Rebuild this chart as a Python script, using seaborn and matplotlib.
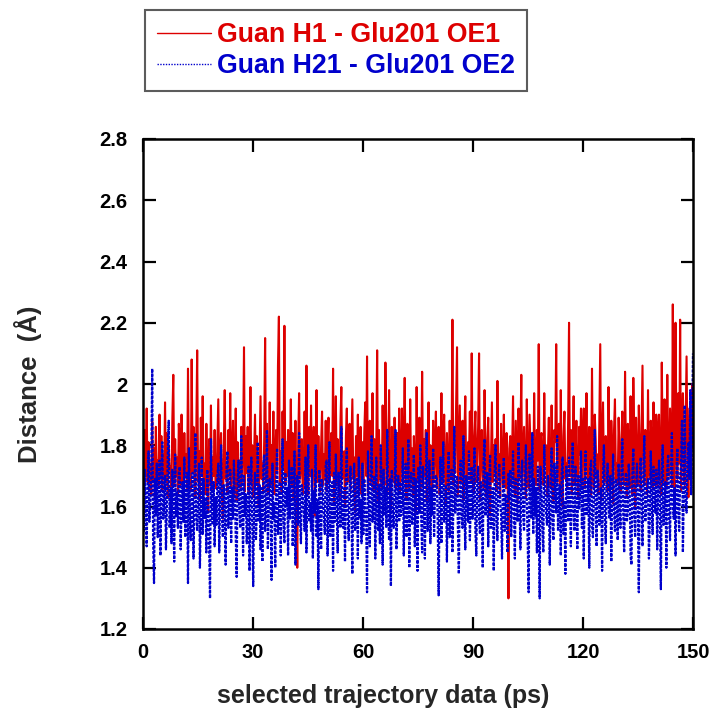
import numpy as np
import pandas as pd
import matplotlib
matplotlib.use("Agg")
import matplotlib.pyplot as plt
import seaborn as sns

# Distance series (Å), sampled evenly over the 0-150 ps window (40 samples per 10 ps row)
h1_oe1 = [
    1.78,1.66,1.85,1.70,1.92,1.68,1.81,1.66,1.74,1.64,1.88,1.69,1.79,1.63,1.86,1.71,1.75,1.67,1.90,1.70,
    1.83,1.65,1.77,1.69,1.94,1.68,1.84,1.63,1.80,1.72,1.73,1.66,1.89,2.03,1.67,1.82,1.70,1.76,1.64,1.87,
    1.81,1.67,1.90,1.72,1.64,1.84,1.70,1.77,1.66,2.05,1.69,1.79,1.65,2.08,1.71,1.86,1.73,1.63,1.83,2.11,
    1.68,1.78,1.62,1.89,1.70,1.96,1.66,1.74,1.64,1.87,1.71,1.58,1.82,1.67,1.93,1.65,1.76,1.70,1.85,1.66,
    1.66,1.80,1.95,1.68,1.74,1.84,1.65,1.56,1.79,1.98,1.69,1.72,1.64,1.85,1.70,1.97,1.66,1.76,1.88,1.63,
    1.72,1.92,1.62,1.81,1.69,1.75,1.66,1.86,1.68,1.78,2.12,1.65,1.83,1.71,1.86,1.64,1.73,1.99,1.67,1.80,
    1.63,1.77,1.90,1.67,1.83,1.70,1.60,1.79,1.96,1.69,1.74,1.65,1.82,2.15,1.68,1.87,1.64,1.72,1.94,1.67,
    1.80,1.69,1.91,1.64,1.76,1.85,1.71,2.06,2.22,1.68,1.78,1.65,1.91,1.72,2.19,1.67,1.81,1.70,1.85,1.66,
    1.76,1.95,1.67,1.84,1.62,1.71,1.88,1.68,1.40,1.80,1.97,1.69,1.74,1.82,1.64,1.70,1.91,1.66,2.06,1.72,
    1.64,1.86,1.70,1.93,1.66,1.78,1.86,1.57,1.75,1.98,1.68,1.83,1.71,1.65,1.80,1.91,1.67,1.77,1.69,1.88,
    1.65,1.79,1.89,1.68,1.73,1.84,1.70,2.05,1.61,1.77,1.96,1.67,1.82,1.71,1.63,1.87,1.99,1.69,1.74,1.78,
    1.60,1.83,1.92,1.68,1.71,1.87,1.65,1.80,1.95,1.69,1.76,1.58,1.83,1.70,1.90,1.66,1.75,1.86,1.64,1.81,
    1.67,1.84,1.94,1.70,2.09,1.64,1.78,1.88,1.68,1.73,1.97,1.65,1.82,1.71,1.76,2.11,1.62,1.85,1.69,1.79,
    1.66,1.93,1.72,1.67,2.07,1.81,1.64,1.74,1.98,1.69,1.59,1.86,1.72,1.68,1.89,1.66,1.77,1.84,1.67,1.92,
    1.65,1.76,1.92,1.68,1.81,2.02,1.70,1.62,1.87,1.74,1.66,1.95,1.69,1.79,1.64,1.83,1.72,1.58,1.99,1.68,
    1.77,1.89,1.65,1.73,2.04,1.67,1.82,1.70,1.85,1.62,1.75,1.94,1.67,1.80,1.71,1.65,1.88,1.69,1.79,1.91,
    1.66,1.78,1.86,1.64,1.72,1.97,1.68,1.82,1.90,1.70,1.61,1.84,1.75,1.65,1.88,1.69,1.77,2.21,1.67,1.80,
    1.71,1.93,2.12,1.64,1.79,1.93,1.68,1.74,1.88,1.62,1.83,1.96,1.70,1.66,1.81,1.76,1.91,1.68,2.10,1.73,
    1.65,1.83,1.91,1.68,1.75,1.86,2.10,1.62,1.78,1.85,1.70,1.66,1.98,1.73,1.63,1.82,1.89,1.69,1.57,1.76,
    1.94,1.68,1.80,1.71,1.82,1.65,2.01,1.70,1.77,1.63,1.87,1.74,1.67,1.90,1.70,1.66,1.84,1.72,1.30,1.79,
    1.83,1.67,1.77,1.96,1.70,1.64,1.88,1.74,1.61,1.92,1.69,1.81,2.03,1.66,1.76,1.86,1.70,1.63,1.95,1.72,
    1.66,1.90,1.79,1.69,1.84,1.64,1.97,1.71,1.67,1.85,1.75,2.13,1.65,1.82,1.84,1.70,1.67,1.97,1.74,1.80,
    1.64,1.78,1.89,1.69,1.66,1.93,1.72,1.62,1.85,1.81,2.13,1.68,1.76,1.87,1.65,1.98,1.71,1.60,1.83,1.91,
    1.69,1.74,1.66,1.88,2.20,1.70,1.85,1.64,1.79,1.96,1.67,1.73,1.88,1.69,1.63,1.86,1.77,1.92,1.67,1.81,
    1.92,1.66,1.78,1.97,1.70,1.67,1.86,1.74,1.64,2.05,1.71,1.66,1.90,1.82,1.69,1.77,1.64,1.88,2.13,1.62,
    1.80,1.94,1.70,1.68,1.83,1.76,1.65,1.99,1.72,1.67,1.88,1.79,1.61,1.85,1.95,1.69,1.74,1.67,1.89,1.78,
    1.65,1.81,1.91,1.69,1.67,2.04,1.75,1.63,1.87,1.79,1.66,1.96,1.71,1.64,2.02,1.83,1.60,1.89,1.73,1.67,
    1.93,1.78,1.65,1.85,2.06,1.70,1.67,1.85,1.77,1.64,1.98,1.72,1.69,1.88,1.80,1.66,1.94,1.74,1.67,1.90,
    1.67,1.84,1.90,1.71,1.64,2.07,1.76,1.68,1.95,1.82,1.66,2.03,1.73,1.70,1.92,1.80,1.67,2.26,1.70,1.66,
    2.20,1.78,1.69,1.97,1.74,2.21,1.65,1.86,1.97,1.70,1.67,1.88,2.09,1.75,1.63,1.92,1.81,1.70,2.00,1.79,
]

h21_oe2 = [
    1.64,1.52,1.72,1.58,1.47,1.66,1.78,1.55,1.61,1.70,2.05,1.49,1.35,1.69,1.57,1.74,1.50,1.63,1.75,1.44,
    1.68,1.81,1.56,1.62,1.70,1.46,1.59,1.77,1.88,1.53,1.66,1.48,1.72,1.60,1.42,1.77,1.57,1.65,1.53,1.71,
    1.73,1.46,1.60,1.68,1.55,1.76,1.50,1.63,1.71,1.35,1.79,1.58,1.49,1.66,1.71,1.43,1.62,1.84,1.57,1.52,
    1.65,1.74,1.40,1.60,1.76,1.51,1.69,1.56,1.63,1.45,1.72,1.58,1.47,1.30,1.82,1.61,1.54,1.68,1.47,1.63,
    1.54,1.70,1.74,1.45,1.62,1.80,1.56,1.50,1.67,1.59,1.41,1.73,1.78,1.53,1.61,1.72,1.48,1.66,1.56,1.75,
    1.64,1.51,1.37,1.69,1.75,1.58,1.53,1.83,1.62,1.44,1.70,1.57,1.64,1.48,1.58,1.73,1.39,1.66,1.76,1.55,
    1.34,1.62,1.71,1.49,1.58,1.81,1.55,1.67,1.46,1.66,1.42,1.73,1.77,1.52,1.60,1.85,1.46,1.64,1.69,1.58,
    1.36,1.74,1.56,1.61,1.40,1.68,1.79,1.51,1.57,1.68,1.44,1.63,1.82,1.55,1.48,1.71,1.60,1.66,1.44,1.75,
    1.56,1.64,1.73,1.47,1.59,1.78,1.41,1.62,1.70,1.54,1.84,1.57,1.48,1.67,1.63,1.59,1.52,1.76,1.45,1.69,
    1.80,1.55,1.61,1.52,1.72,1.43,1.65,1.58,1.80,1.50,1.62,1.33,1.72,1.57,1.46,1.69,1.64,1.57,1.51,1.74,
    1.75,1.44,1.63,1.81,1.50,1.59,1.68,1.39,1.71,1.55,1.77,1.60,1.45,1.71,1.64,1.53,1.86,1.58,1.53,1.66,
    1.42,1.70,1.79,1.56,1.49,1.64,1.73,1.58,1.38,1.67,1.74,1.52,1.61,1.69,1.43,1.76,1.56,1.62,1.48,1.74,
    1.51,1.69,1.60,1.56,1.32,1.78,1.63,1.47,1.67,1.83,1.55,1.61,1.70,1.43,1.76,1.59,1.52,1.67,1.48,1.80,
    1.62,1.41,1.72,1.57,1.66,1.53,1.85,1.60,1.49,1.69,1.34,1.72,1.58,1.53,1.64,1.85,1.46,1.61,1.70,1.55,
    1.68,1.57,1.62,1.79,1.44,1.66,1.74,1.50,1.59,1.82,1.40,1.65,1.71,1.54,1.60,1.77,1.47,1.69,1.63,1.39,
    1.73,1.58,1.80,1.56,1.45,1.73,1.62,1.43,1.68,1.84,1.52,1.61,1.75,1.48,1.66,1.57,1.79,1.50,1.64,1.70,
    1.69,1.54,1.31,1.62,1.76,1.48,1.66,1.81,1.55,1.60,1.67,1.42,1.71,1.78,1.50,1.63,1.72,1.45,1.59,1.86,
    1.58,1.65,1.70,1.52,1.38,1.68,1.75,1.57,1.53,1.83,1.61,1.46,1.70,1.64,1.55,1.78,1.49,1.62,1.73,1.56,
    1.64,1.79,1.52,1.44,1.68,1.73,1.56,1.51,1.68,1.62,1.40,1.75,1.82,1.57,1.63,1.71,1.47,1.66,1.77,1.53,
    1.59,1.66,1.39,1.72,1.80,1.55,1.49,1.68,1.74,1.61,1.57,1.43,1.69,1.76,1.52,1.64,1.58,1.45,1.71,1.62,
    1.72,1.50,1.65,1.78,1.58,1.43,1.69,1.61,1.55,1.81,1.64,1.46,1.70,1.75,1.57,1.52,1.67,1.80,1.62,1.48,
    1.32,1.77,1.63,1.56,1.84,1.51,1.69,1.57,1.66,1.45,1.73,1.59,1.30,1.73,1.64,1.53,1.45,1.80,1.67,1.58,
    1.54,1.70,1.63,1.41,1.68,1.79,1.55,1.49,1.74,1.66,1.58,1.83,1.52,1.61,1.67,1.44,1.71,1.76,1.51,1.62,
    1.38,1.73,1.66,1.55,1.76,1.60,1.47,1.68,1.81,1.57,1.52,1.73,1.64,1.46,1.70,1.59,1.65,1.78,1.53,1.69,
    1.43,1.66,1.78,1.57,1.62,1.69,1.40,1.72,1.75,1.54,1.50,1.64,1.85,1.59,1.47,1.72,1.68,1.54,1.61,1.66,
    1.39,1.71,1.80,1.56,1.48,1.67,1.74,1.60,1.56,1.70,1.42,1.65,1.77,1.58,1.52,1.69,1.63,1.49,1.74,1.60,
    1.53,1.69,1.82,1.58,1.45,1.67,1.71,1.55,1.58,1.74,1.67,1.44,1.41,1.70,1.79,1.57,1.50,1.66,1.74,1.56,
    1.32,1.68,1.76,1.61,1.47,1.72,1.83,1.55,1.60,1.66,1.69,1.43,1.56,1.78,1.62,1.51,1.73,1.64,1.58,1.72,
    1.46,1.64,1.75,1.58,1.33,1.71,1.80,1.54,1.62,1.68,1.40,1.73,1.77,1.56,1.49,1.71,1.84,1.60,1.56,1.66,
    1.44,1.72,1.79,1.57,1.52,1.70,1.74,1.88,1.45,1.66,1.93,1.62,1.58,1.76,1.81,1.69,1.98,1.64,1.86,2.10,
]

series_labels = ["Guan H1 - Glu201 OE1", "Guan H21 - Glu201 OE2"]
x_ticks = [0, 30, 60, 90, 120, 150]
y_ticks = [1.2, 1.4, 1.6, 1.8, 2.0, 2.2, 2.4, 2.6, 2.8]
y_tick_labels = ["1.2", "1.4", "1.6", "1.8", "2", "2.2", "2.4", "2.6", "2.8"]

t_end = 150.0
df_h1 = pd.DataFrame({"time": np.linspace(0.0, t_end, len(h1_oe1)), "dist": h1_oe1})
df_h21 = pd.DataFrame({"time": np.linspace(0.0, t_end, len(h21_oe2)), "dist": h21_oe2})

sns.set_theme(style="white")
plt.rcParams["font.family"] = ["Liberation Sans", "DejaVu Sans"]
plt.rcParams["font.weight"] = "bold"

red = "#dd0000"
blue = "#0000cc"

fig = plt.figure(figsize=(7.13, 7.15), dpi=100)
ax = fig.add_axes([143 / 713, 1 - 629 / 715, 550 / 713, 490 / 715])

sns.lineplot(data=df_h1, x="time", y="dist", ax=ax, color=red, linewidth=1.5,
             sort=False, estimator=None, label=series_labels[0])
sns.lineplot(data=df_h21, x="time", y="dist", ax=ax, color=blue, linewidth=1.6,
             linestyle=(0, (1.4, 0.6)), sort=False, estimator=None, label=series_labels[1])

ax.set_xlim(0, 150)
ax.set_ylim(1.2, 2.8)
ax.set_xticks(x_ticks)
ax.set_xticklabels([str(v) for v in x_ticks])
ax.set_yticks(y_ticks)
ax.set_yticklabels(y_tick_labels)

for s in ax.spines.values():
    s.set_visible(True)
    s.set_color("black")
    s.set_linewidth(1.8)

ax.tick_params(axis="both", direction="in", length=9, width=1.6, colors="black",
               labelsize=14.5, top=True, right=True, left=True, bottom=True)
ax.tick_params(axis="x", pad=10)
ax.tick_params(axis="y", pad=11)
for lab in ax.get_xticklabels() + ax.get_yticklabels():
    lab.set_fontweight("bold")

ax.set_xlabel("selected trajectory data (ps)", fontsize=18, fontweight="bold")
ax.set_ylabel("Distance  (\u00c5)", fontsize=18.5, fontweight="bold")
ax.xaxis.set_label_coords((383 - 143) / 550, -(684 - 629) / 490)
ax.yaxis.set_label_coords(-(143 - 42) / 550, 0.5)

handles, labels = ax.get_legend_handles_labels()
ax.get_legend().remove()
leg = fig.legend(handles, labels, loc="upper left",
                 bbox_to_anchor=(145 / 713, 1 - 10 / 715),
                 frameon=True, fancybox=False, fontsize=19.3,
                 handlelength=2.0, handletextpad=0.25, borderpad=0.45,
                 labelspacing=0.18, borderaxespad=0)
leg.get_frame().set_edgecolor("#333333")
leg.get_frame().set_linewidth(1.5)
leg.get_lines()[0].set_linewidth(1.0)
leg.get_lines()[1].set_linewidth(1.0)
leg.get_lines()[1].set_linestyle((0, (1, 1)))
for txt, col in zip(leg.get_texts(), [red, blue]):
    txt.set_color(col)
    txt.set_fontweight("bold")

fig.savefig("out.png", dpi=100)
